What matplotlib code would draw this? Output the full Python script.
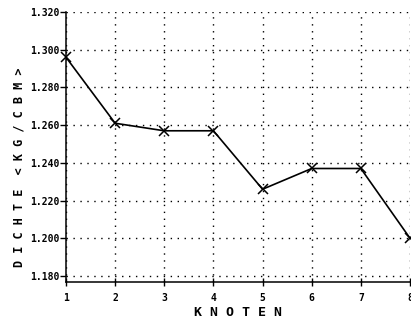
import matplotlib
matplotlib.use("Agg")
import matplotlib.pyplot as plt

# Dichte pro Knoten
knoten = [1, 2, 3, 4, 5, 6, 7, 8]
dichte = [1.296, 1.261, 1.257, 1.257, 1.226, 1.237, 1.237, 1.200]
y_ticks = [1.18, 1.20, 1.22, 1.24, 1.26, 1.28, 1.30, 1.32]
y_labels = ["1.180", "1.200", "1.220", "1.240", "1.260", "1.280", "1.300", "1.320"]

mono = "DejaVu Sans Mono"

fig = plt.figure(figsize=(4.11, 3.21), dpi=100)
ax = fig.add_axes([66 / 411, 39 / 321, 344 / 411, 270 / 321])

ax.plot(knoten, dichte, color="black", linewidth=1.2, marker="x",
        markersize=7, markeredgewidth=1.1, clip_on=False, zorder=3)

ax.set_xlim(1, 8)
ax.set_ylim(1.1768, 1.32)
ax.set_xticks(knoten)
ax.set_yticks(y_ticks)
ax.set_yticklabels(y_labels)

for lab in ax.get_xticklabels() + ax.get_yticklabels():
    lab.set_family(mono)
    lab.set_weight("bold")
    lab.set_fontsize(7)

ax.tick_params(axis="y", direction="out", length=4, width=1, pad=1)
ax.tick_params(axis="x", direction="inout", length=6, width=1, pad=5)

ax.grid(True, color="black", linewidth=1.0, linestyle=(0, (1, 4)))
for s in ["top", "right"]:
    ax.spines[s].set_visible(False)
for s in ["left", "bottom"]:
    ax.spines[s].set_linewidth(1.1)

ax.set_xlabel("K N O T E N", family=mono, weight="bold", fontsize=9.5, labelpad=2)
ax.set_ylabel("D I C H T E  < K G / C B M >", family=mono, weight="bold",
              fontsize=8.5)
ax.yaxis.set_label_coords(-0.119, 0.426)

fig.savefig("out.png", dpi=100)
